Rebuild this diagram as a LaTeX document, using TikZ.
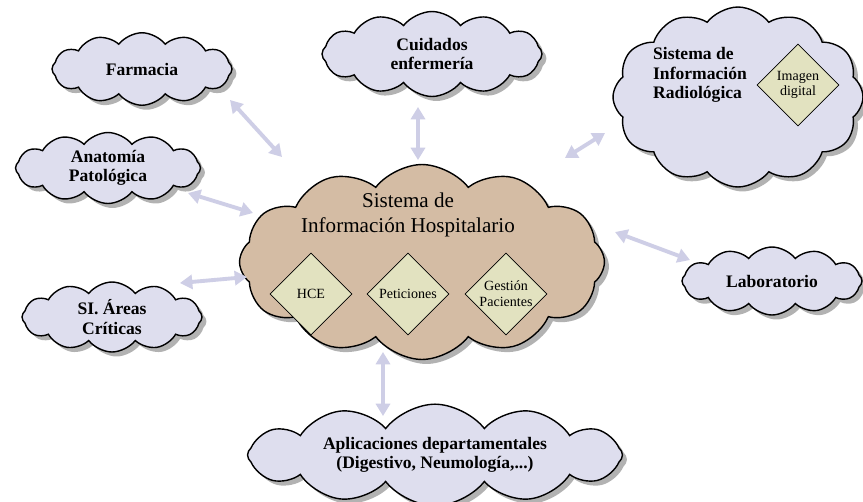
\documentclass[tikz,border=0pt]{standalone}
\usepackage{fontspec}
\setmainfont{Liberation Serif}
\usetikzlibrary{shapes.symbols,shapes.geometric,shadows,arrows.meta}

\definecolor{cloudlav}{RGB}{222,222,238}
\definecolor{cloudtan}{RGB}{212,188,164}
\definecolor{diamondfill}{RGB}{226,226,192}
\definecolor{linklav}{RGB}{206,206,230}

\begin{document}
\begin{tikzpicture}[x=0.02cm,y=-0.02cm,
  nube/.style={cloud, cloud puffs=12, cloud puff arc=105, draw=black, thick, fill=cloudlav,
    inner sep=0pt, align=center, font=\bfseries\fontsize{10}{11}\selectfont,
    drop shadow={shadow xshift=0.9mm, shadow yshift=-0.9mm, fill=black!60}},
  rombo/.style={diamond, draw=black, fill=diamondfill, minimum size=1.64cm, inner sep=0pt,
    align=center, font=\fontsize{8}{9}\selectfont},
  enlace/.style={{Triangle[length=7pt,width=8pt]}-{Triangle[length=7pt,width=8pt]},
    line width=2.2pt, draw=linklav}]
%\draw[help lines, color=gray!30] (0,0) grid[step=50] (863,501);
\useasboundingbox (0,0) rectangle (863,501);
\fill[white] (0,0) rectangle (863,501);

% nubes alrededor
\node[nube, aspect=2.5, minimum width=3.6cm, minimum height=1.45cm] (farmacia) at (142,69) {Farmacia};
\node[nube, aspect=2.6, minimum width=4.4cm, minimum height=1.7cm] (cuidados) at (432,54) {Cuidados\\enfermería};
\node[nube, aspect=1.4, minimum width=5cm, minimum height=3.6cm] (sirad) at (738,97) {};
\node[align=left, font=\bfseries\fontsize{10}{11}\selectfont] (sirad-txt) at (700,75) {Sistema de\\Información\\Radiológica};
\node[rombo] (imagen) at (798,85) {Imagen\\digital};
\node[nube, aspect=2.6, minimum width=3.7cm, minimum height=1.42cm] (anatomia) at (108,168) {Anatomía\\Patológica};
\node[nube, aspect=2.65, minimum width=3.6cm, minimum height=1.36cm] (laboratorio) at (772,281) {Laboratorio};
\node[nube, aspect=2.6, minimum width=3.6cm, minimum height=1.4cm] (sicriticas) at (112,317) {SI. Áreas\\Críticas};
\node[nube, aspect=5, minimum width=7.5cm, minimum height=1.5cm] (aplicaciones) at (435,455) {Aplicaciones departamentales\\(Digestivo, Neumología,...)};

% nube central
\node[nube, fill=cloudtan, aspect=1.87, minimum width=7.3cm, minimum height=3.9cm] (sih) at (422,262) {};
\node[align=center, font=\fontsize{12}{14}\selectfont] (sih-txt) at (408,215) {Sistema de\\Información Hospitalario};
\node[rombo] (hce) at (311,294) {HCE};
\node[rombo] (peticiones) at (408,294) {Peticiones};
\node[rombo] (gestion) at (506,294) {Gestión\\Pacientes};

% flechas
\coordinate (farm-a) at (230,100); \coordinate (farm-b) at (282,157);
\coordinate (anat-a) at (188,193); \coordinate (anat-b) at (253,213);
\coordinate (cuid-a) at (418,107); \coordinate (cuid-b) at (418,160);
\coordinate (rad-a) at (605,133); \coordinate (rad-b) at (565,158);
\coordinate (lab-a) at (615,232); \coordinate (lab-b) at (690,260);
\coordinate (crit-a) at (180,283); \coordinate (crit-b) at (247,277);
\coordinate (apl-a) at (383,352); \coordinate (apl-b) at (383,416);
\draw[enlace] (farm-a) -- (farm-b);
\draw[enlace] (anat-a) -- (anat-b);
\draw[enlace] (cuid-a) -- (cuid-b);
\draw[enlace] (rad-a) -- (rad-b);
\draw[enlace] (lab-a) -- (lab-b);
\draw[enlace] (crit-a) -- (crit-b);
\draw[enlace] (apl-a) -- (apl-b);
\end{tikzpicture}
\end{document}
